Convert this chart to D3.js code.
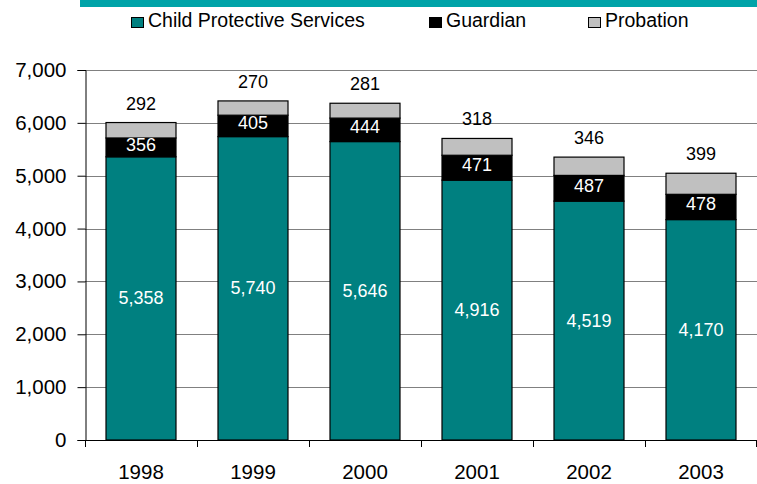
<!DOCTYPE html>
<html><head><meta charset="utf-8">
<script src="https://cdn.jsdelivr.net/npm/d3@7"></script>
<style>body{margin:0;background:#fff}svg{display:block}text{font-family:"Liberation Sans",Arial,sans-serif}</style>
</head><body>
<svg id="c" width="757" height="484"></svg>
<script>
const years = ["1998","1999","2000","2001","2002","2003"];
const seriesNames = ["Child Protective Services","Guardian","Probation"];
const cps = [5358,5740,5646,4916,4519,4170];
const guardian = [356,405,444,471,487,478];
const probation = [292,270,281,318,346,399];
const yTicks = [0,1000,2000,3000,4000,5000,6000,7000];
const colors = ["#008080","#000000","#C0C0C0"];

const svg = d3.select("#c");
const X0 = 85, X1 = 757, Y0 = 440, Y1 = 70;
const x = d3.scaleBand().domain(years).range([X0, X1]).paddingInner(0.375).paddingOuter(0.1875);
const y = d3.scaleLinear().domain([0,7000]).range([Y0, Y1]);
const FF = "Liberation Sans, Arial, sans-serif";

// top banner
svg.append("rect").attr("x",80).attr("y",0).attr("width",677).attr("height",7).attr("fill","#00A3A8");

// gridlines
svg.append("g").selectAll("line").data(yTicks.slice(1)).join("line")
  .attr("x1",X0).attr("x2",X1).attr("y1",d=>Math.round(y(d))+0.5).attr("y2",d=>Math.round(y(d))+0.5)
  .attr("stroke","#808080").attr("stroke-width",1);

// y axis
const ya = svg.append("g").attr("transform",`translate(${X0+0.5},0)`)
  .call(d3.axisLeft(y).tickValues(yTicks).tickFormat(d3.format(",")).tickSize(8).tickPadding(11));
ya.select(".domain").attr("stroke","#000");
ya.selectAll("line").attr("stroke","#000");
ya.selectAll("text").attr("font-size",20.5).attr("fill","#000").attr("font-family",FF);

// x axis
const xa = svg.append("g").attr("transform",`translate(0,${Math.round(y(0))+0.5})`)
  .call(d3.axisBottom(x).tickSize(0).tickPadding(24));
xa.select(".domain").attr("stroke","#000").attr("d",`M${X0},0H${X1}`);
xa.selectAll("text").attr("font-size",20.5).attr("fill","#000").attr("font-family",FF);
const step = x.step();
const bounds = years.map((d,i)=>X0 + i*step).concat([X1-1]);
svg.append("g").selectAll("line").data(bounds).join("line")
  .attr("x1",d=>Math.round(d)+0.5).attr("x2",d=>Math.round(d)+0.5).attr("y1",y(0)).attr("y2",y(0)+7).attr("stroke","#000");

// stacked bars
const rows = years.map((yr,i)=>({year:yr, cps:cps[i], guardian:guardian[i], probation:probation[i]}));
const stack = d3.stack().keys(["cps","guardian","probation"])(rows);
const g = svg.append("g");
stack.forEach((s,si)=>{
  g.selectAll(null).data(s).join("rect")
    .attr("x",d=>x(d.data.year)).attr("width",x.bandwidth())
    .attr("y",d=>y(d[1])).attr("height",d=>y(d[0])-y(d[1]))
    .attr("fill",colors[si]).attr("stroke","#000").attr("stroke-width",1.2);
});
const fmt = d3.format(",");
g.selectAll(null).data(stack[0]).join("text")
  .attr("x",d=>x(d.data.year)+x.bandwidth()/2).attr("y",d=>(y(d[0])+y(d[1]))/2+6)
  .attr("text-anchor","middle").attr("font-size",18).attr("fill","#fff").text(d=>fmt(d[1]-d[0]));
g.selectAll(null).data(stack[1]).join("text")
  .attr("x",d=>x(d.data.year)+x.bandwidth()/2).attr("y",d=>(y(d[0])+y(d[1]))/2+3.5)
  .attr("text-anchor","middle").attr("font-size",18).attr("fill","#fff").text(d=>fmt(d[1]-d[0]));
g.selectAll(null).data(stack[2]).join("text")
  .attr("x",d=>x(d.data.year)+x.bandwidth()/2).attr("y",d=>y(d[1])-13)
  .attr("text-anchor","middle").attr("font-size",18).attr("fill","#000").text(d=>fmt(d[1]-d[0]));

// legend
const legX = [131,429,588];
const lg = svg.append("g");
seriesNames.forEach((n,i)=>{
  lg.append("rect").attr("x",legX[i]+0.5).attr("y",17.5).attr("width",12).attr("height",10)
    .attr("fill",colors[i]).attr("stroke","#000").attr("stroke-width",1);
  lg.append("text").attr("x",legX[i]+17).attr("y",27).attr("font-size",19.5).attr("fill","#000").text(n);
});
</script>
</body></html>
